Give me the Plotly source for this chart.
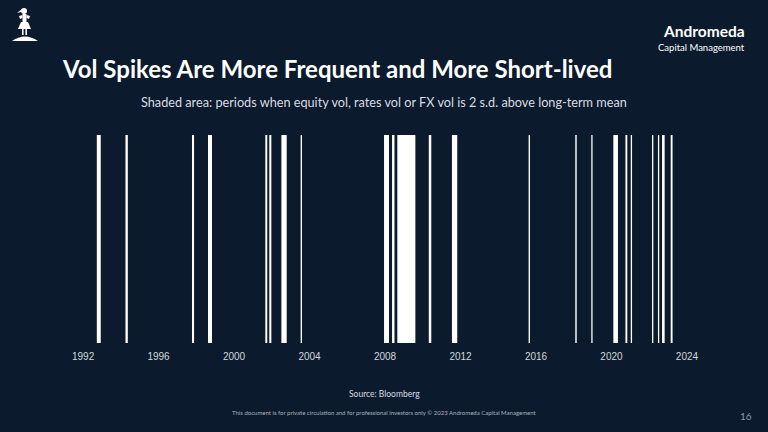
import base64
import plotly.graph_objects as go

# ---- data: periods of elevated vol (start, end) ----
period_starts = [
    "1992-09-23", "1994-04-01", "1997-10-09", "1998-08-15", "2001-08-28",
    "2001-11-13", "2002-07-05", "2003-07-13", "2007-12-13", "2008-05-16",
    "2008-08-26", "2010-04-27", "2011-07-19", "2015-08-11", "2018-01-30",
    "2018-12-06", "2020-02-06", "2020-09-27", "2021-01-08", "2022-02-24",
    "2022-06-18", "2022-09-05", "2023-02-20",
]
period_ends = [
    "1992-12-08", "1994-05-16", "1997-11-18", "1998-10-31", "2001-10-05",
    "2001-12-23", "2002-10-16", "2003-08-08", "2008-03-18", "2008-07-02",
    "2009-08-10", "2010-06-14", "2011-10-30", "2015-09-06", "2018-02-27",
    "2018-12-31", "2020-05-05", "2020-11-02", "2021-02-02", "2022-03-21",
    "2022-07-13", "2022-10-26", "2023-03-28",
]
tick_years = ["1992", "1996", "2000", "2004", "2008", "2012", "2016", "2020", "2024"]

BG = "#0b1a2d"
W, H = 768, 432
L, R, T, B = 70, 700, 135, 343  # plot area in pixels


def px(x):
    return (x - L) / (R - L)


def py(y):
    return (B - y) / (B - T)


xs, ys = [], []
for s, e in zip(period_starts, period_ends):
    xs += [s, s, e, e, s, None]
    ys += [0, 1, 1, 0, 0, None]

fig = go.Figure()
fig.add_trace(go.Scatter(
    x=xs, y=ys, mode="lines", fill="toself", fillcolor="#ffffff",
    line=dict(width=0, color="#ffffff"), hoverinfo="skip", showlegend=False,
))

fig.update_layout(
    width=W, height=H,
    paper_bgcolor=BG, plot_bgcolor=BG,
    margin=dict(l=L, r=W - R, t=T, b=H - B, pad=0),
    showlegend=False,
    xaxis=dict(
        type="date",
        range=["1991-04-23", "2024-09-09"],
        tickvals=[f"{y}-01-01" for y in tick_years],
        ticktext=tick_years,
        showgrid=False, zeroline=False, showline=False, ticks="",
        ticklabelstandoff=6,
        tickfont=dict(family="Liberation Sans, Arial", size=10, color="#d4d8de"),
    ),
    yaxis=dict(range=[0, 1], visible=False, fixedrange=True),
)

ann = []
# title
ann.append(dict(text="<b>Vol Spikes Are More Frequent and More Short-lived</b>",
                x=px(60), y=py(68), xanchor="left", yanchor="middle",
                font=dict(family="Lato", size=24, color="#ffffff"), showarrow=False))
ann.append(dict(text="Shaded area: periods when equity vol, rates vol or FX vol is 2 s.d. above long-term mean",
                x=px(384), y=py(102), xanchor="center", yanchor="middle",
                font=dict(family="Lato", size=12.7, color="#d8dce2"), showarrow=False))
# brand
ann.append(dict(text="<b>Andromeda</b>", x=px(747), y=py(31), xanchor="right", yanchor="middle",
                font=dict(family="Lato", size=15.5, color="#ffffff"), showarrow=False))
ann.append(dict(text="Capital Management", x=px(747), y=py(47.5), xanchor="right", yanchor="middle",
                font=dict(family="Lato", size=9.5, color="#ffffff"), showarrow=False))
# footer
ann.append(dict(text="Source: Bloomberg", x=px(384), y=py(394), xanchor="center", yanchor="middle",
                font=dict(family="Lato", size=8.5, color="#d8dce2"), showarrow=False))
ann.append(dict(text="This document is for private circulation and for professional investors only © 2023 Andromeda Capital Management",
                x=px(384), y=py(412), xanchor="center", yanchor="middle",
                font=dict(family="Lato", size=6, color="#aab2bd"), showarrow=False))
ann.append(dict(text="16", x=px(746), y=py(416), xanchor="center", yanchor="middle",
                font=dict(family="Lato", size=10, color="#8e99a8"), showarrow=False))
for a in ann:
    a["xref"] = "paper"
    a["yref"] = "paper"
fig.update_layout(annotations=ann)

# logo (decorative silhouette)
svg = """<svg xmlns='http://www.w3.org/2000/svg' width='30' height='36' viewBox='0 0 30 36'>
<path d='M2 35 Q15 26 28 35 Z' fill='white'/>
<circle cx='14' cy='5' r='3' fill='white'/>
<path d='M12 3 L7 7 L11 6 Z' fill='white'/>
<rect x='12.5' y='8' width='4' height='8' fill='white'/>
<path d='M9 10 L12.5 9 L12.5 12 L10 13 Z' fill='white'/>
<path d='M20 10 L16.5 9 L16.5 12 L19 13 Z' fill='white'/>
<path d='M11 16 L18 16 L21 23 L8 23 Z' fill='white'/>
<rect x='12' y='23' width='1.6' height='6' fill='white'/>
<rect x='15.4' y='23' width='1.6' height='6' fill='white'/>
</svg>"""
src = "data:image/svg+xml;base64," + base64.b64encode(svg.encode()).decode()
fig.add_layout_image(dict(source=src, xref="paper", yref="paper",
                          x=px(10), y=py(6), sizex=30 / (R - L), sizey=36 / (B - T),
                          xanchor="left", yanchor="top", sizing="stretch", layer="above"))

fig.write_html("out.html", config={"displayModeBar": False},
               post_script="document.body.style.margin='0';document.body.style.background='%s';" % BG)
